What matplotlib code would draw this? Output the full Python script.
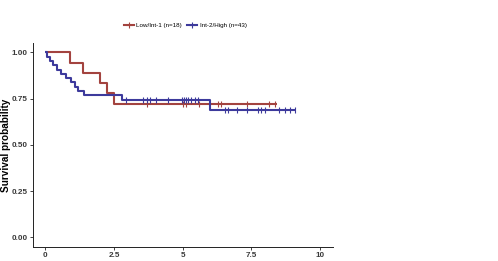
"""Kaplan-Meier style survival plot by risk group"""

import numpy as np
from matplotlib import pyplot as plt
from matplotlib.lines import Line2D

plt.rcParams['font.family'] = ['Liberation Sans', 'DejaVu Sans']

# step curves: times where the curve drops and the level after each drop
low_times = [0.9, 1.38, 1.99, 2.25, 2.48]
low_surv = [0.944, 0.889, 0.833, 0.778, 0.722]
low_end = 8.42
low_censor = [3.69, 5.02, 5.12, 5.6, 6.28, 6.38, 7.33, 8.14, 8.36]

high_times = [0.07, 0.16, 0.27, 0.43, 0.58, 0.74, 0.92, 1.08, 1.2, 1.42, 2.78, 6.0]
high_surv = [0.977, 0.953, 0.930, 0.907, 0.884, 0.860, 0.837, 0.814, 0.791, 0.767,
             0.744, 0.691]
high_end = 9.09
high_censor = [2.94, 3.57, 3.69, 3.81, 4.03, 4.46, 4.97, 5.03, 5.12, 5.2, 5.3, 5.45, 5.55,
               6.55, 6.63, 6.99, 7.33, 7.75, 7.85, 8.0, 8.5, 8.72, 8.92, 9.09]

labels = ['Low/Int-1 (n=18)', 'Int-2/High (n=43)']
colors = ['#a3433f', '#3d3a9c']
xticks = [0, 2.5, 5, 7.5, 10]
yticks = [0.0, 0.25, 0.5, 0.75, 1.0]


def surv_at(t, times, surv):
    idx = np.searchsorted(times, t, side='right')
    levels = np.concatenate([[1.0], surv])
    return levels[idx]


fig = plt.figure(figsize=(4.98, 2.61), dpi=100)
ax = fig.add_axes([0.0663, 0.0548, 0.6024, 0.7802])

groups = [
    (low_times, low_surv, low_end, low_censor),
    (high_times, high_surv, high_end, high_censor),
]
for (times, surv, end, cens), col in zip(groups, colors):
    x = np.concatenate([[0.0], times, [end]])
    y = np.concatenate([[1.0], surv, [surv[-1]]])
    ax.step(x, y, where='post', color=col, lw=1.5, solid_capstyle='butt')
    cens = np.array(cens)
    ax.plot(cens, surv_at(cens, times, surv), ls='none', marker='|',
            ms=4.5, mew=0.8, color=col)

ax.set_xlim(-0.45, 10.47)
ax.set_ylim(-0.05, 1.05)
ax.set_xticks(xticks)
ax.set_xticklabels(['0', '2.5', '5', '7.5', '10'])
ax.set_yticks(yticks)
ax.set_yticklabels(['0.00', '0.25', '0.50', '0.75', '1.00'])
ax.tick_params(labelsize=5.9, colors='#222222', length=2.5, width=0.6, pad=1.5)
ax.tick_params(axis='both', labelcolor='#3a3a3a')
for lab in ax.get_xticklabels() + ax.get_yticklabels():
    lab.set_fontweight('bold')
for s in ['top', 'right']:
    ax.spines[s].set_visible(False)
for s in ['left', 'bottom']:
    ax.spines[s].set_linewidth(0.7)
    ax.spines[s].set_color('#222222')

ax.set_ylabel('Survival probability', fontsize=7.2, fontweight='bold')
ax.yaxis.set_label_coords(-0.075, 0.5)
ax.set_xlabel('Years after HCT', fontsize=7.2, fontweight='bold')
ax.xaxis.set_label_coords(0.5, -0.085)

handles = [Line2D([], [], color=c, lw=1.5, marker='+', ms=4, mew=0.8) for c in colors]
fig.legend(handles, labels, loc='center', bbox_to_anchor=(0.372, 0.904), ncol=2,
           frameon=False, fontsize=4.5, handlelength=1.6, handletextpad=0.4,
           columnspacing=0.8)

fig.savefig('out.png', dpi=100)
